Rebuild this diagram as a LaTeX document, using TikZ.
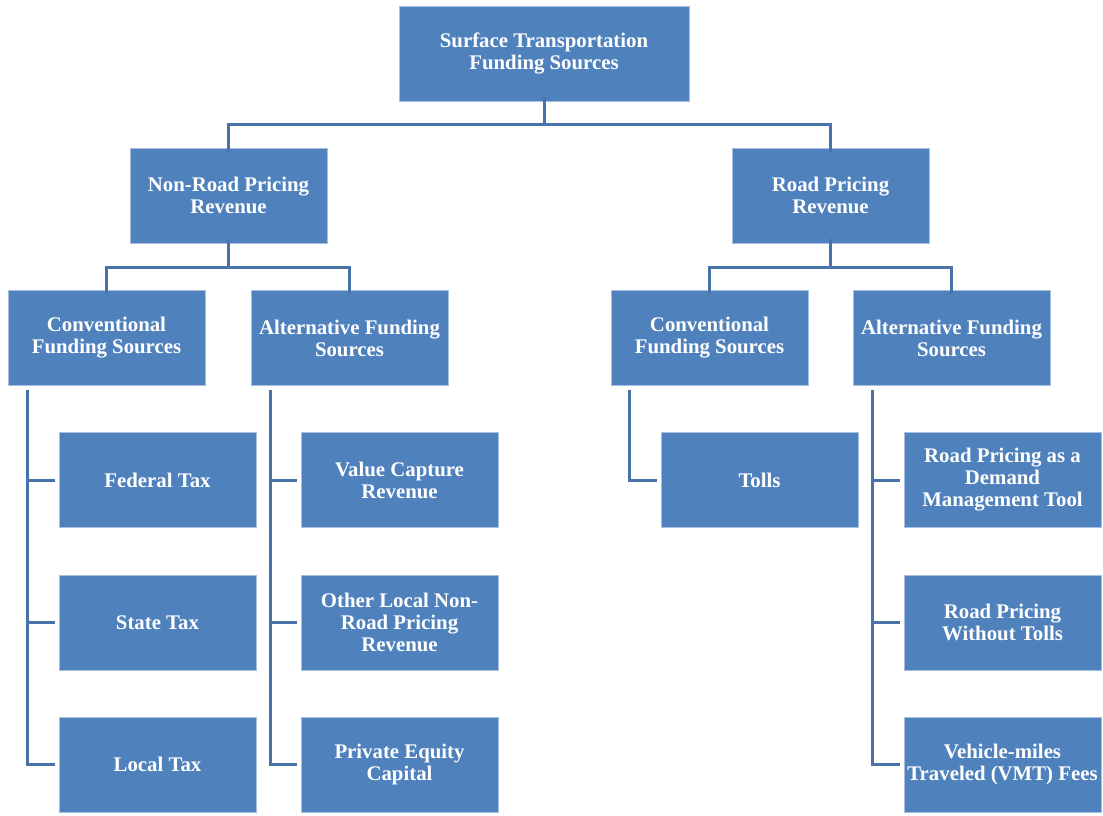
\documentclass[tikz,border=0pt]{standalone}
\usepackage{fontspec}
\setmainfont{Liberation Serif}
\definecolor{boxfill}{HTML}{4F81BD}
\definecolor{boxedge}{HTML}{A7BFDE}
\definecolor{linec}{HTML}{4872A8}
\begin{document}
\begin{tikzpicture}[x=1pt,y=-1pt,
  box/.style={fill=boxfill,draw=boxedge,line width=0.6pt,minimum width=197pt,minimum height=95pt,
    text=white,font=\bfseries\fontsize{20.8}{22}\selectfont,align=center,inner sep=2pt,anchor=center},
  conn/.style={draw=linec,line width=3pt}]
\useasboundingbox (0,0) rectangle (1103,815);
\node[box,minimum width=290pt] (top) at (544,53.5) {Surface Transportation\\Funding Sources};
\node[box] (nr) at (228.5,195.5) {Non-Road Pricing\\Revenue};
\node[box] (rp) at (830.5,195.5) {Road Pricing\\Revenue};
\node[box] (cl) at (106.5,338) {Conventional\\Funding Sources};
\node[box] (al) at (349.5,338) {Alternative Funding\\Sources};
\node[box] (cr) at (709.5,338) {Conventional\\Funding Sources};
\node[box] (ar) at (951.5,338) {Alternative Funding\\Sources};
\node[box] (fed) at (157.5,480) {Federal Tax};
\node[box] (state) at (157.5,622.5) {State Tax};
\node[box] (local) at (157.5,764.5) {Local Tax};
\node[box] (vc) at (399.5,480) {Value Capture\\Revenue};
\node[box] (other) at (399.5,622.5) {Other Local Non-\\Road Pricing\\Revenue};
\node[box] (pe) at (399.5,764.5) {Private Equity\\Capital};
\node[box] (tolls) at (759.5,480) {Tolls};
\node[box] (dm) at (1002.5,480) {Road Pricing as a\\Demand\\Management Tool};
\node[box] (wt) at (1002.5,622.5) {Road Pricing\\Without Tolls};
\node[box] (vmt) at (1002.5,764.5) {Vehicle-miles\\Traveled (VMT) Fees};
% level 0 -> 1
\draw[conn] ([yshift=4pt]top.south) -- (top.south |- 0,124) coordinate (j0);
\draw[conn] ([yshift=-4pt]nr.north) |- (j0) -| ([yshift=-4pt]rp.north);
% level 1 -> 2
\draw[conn] ([yshift=4pt]nr.south) -- (nr.south |- 0,267) coordinate (j1);
\draw[conn] ([yshift=-4pt]cl.north) |- (j1) -| ([yshift=-4pt]al.north);
\draw[conn] ([yshift=4pt]rp.south) -- (rp.south |- 0,267) coordinate (j2);
\draw[conn] ([yshift=-4pt]cr.north) |- (j2) -| ([yshift=-4pt]ar.north);
% spines
\draw[conn] (27,390) |- ([xshift=-4pt]local.west);
\draw[conn] (27,480) -- ([xshift=-4pt]fed.west);
\draw[conn] (27,622.5) -- ([xshift=-4pt]state.west);
\draw[conn] (270,390) |- ([xshift=-4pt]pe.west);
\draw[conn] (270,480) -- ([xshift=-4pt]vc.west);
\draw[conn] (270,622.5) -- ([xshift=-4pt]other.west);
\draw[conn] (629,390) |- ([xshift=-4pt]tolls.west);
\draw[conn] (872,390) |- ([xshift=-4pt]vmt.west);
\draw[conn] (872,480) -- ([xshift=-4pt]dm.west);
\draw[conn] (872,622.5) -- ([xshift=-4pt]wt.west);
\end{tikzpicture}
\end{document}
